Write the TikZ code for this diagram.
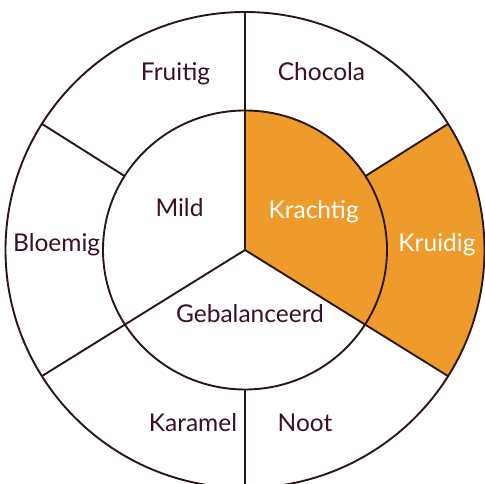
\documentclass[tikz,border=0pt]{standalone}
\usepackage{fontspec}
\setmainfont{Lato}
\usetikzlibrary{calc}
\definecolor{lineC}{HTML}{2A1619}
\definecolor{textC}{HTML}{3B1026}
\definecolor{orangeC}{HTML}{EE9B2B}
\begin{document}
\begin{tikzpicture}[x=1pt,y=1pt,
  ring/.style={draw=lineC,line width=1.9pt},
  spoke/.style={draw=lineC,line width=1.9pt},
  lbl/.style={anchor=base,inner sep=0pt,text=textC,font=\fontsize{24.5}{28}\selectfont},
  lblw/.style={lbl,text=white}]
\useasboundingbox (0,0) rectangle (485,484);
\fill[white] (0,0) rectangle (485,484);
\coordinate (c) at (245,234);
\def\ri{142 and 139.5}
\def\ro{239.5 and 238}
% coordinates
\foreach \a in {90,32,-32,-90,212,148}{
  \coordinate (i\a) at ([shift={(c)}]\a:\ri);
  \coordinate (o\a) at ([shift={(c)}]\a:\ro);
}
% orange fills
\fill[orangeC] (c) -- (i90) arc[start angle=90,end angle=-32,x radius=142,y radius=139.5] -- cycle;
\fill[orangeC] (o32) arc[start angle=32,end angle=-32,x radius=239.5,y radius=238]
  -- (i-32) arc[start angle=-32,end angle=32,x radius=142,y radius=139.5] -- cycle;
% rings
\draw[ring] (c) ellipse[x radius=142,y radius=139.5];
\draw[ring] (c) ellipse[x radius=239.5,y radius=238];
% spokes
\draw[spoke] (c) -- (o90);
\draw[spoke] (c) -- (o-32);
\draw[spoke] (c) -- (o212);
\draw[spoke] (i-90) -- (o-90);
\draw[spoke] (i32) -- (o32);
\draw[spoke] (i148) -- (o148);
% labels
\node[lbl] (fruitig) at (175.5,403) {Fruitig};
\node[lbl] (chocola) at (321.5,403) {Chocola};
\node[lbl] (mild) at (179.5,267) {Mild};
\node[lblw] (krachtig) at (313.7,265) {Krachtig};
\node[lbl] (bloemig) at (56.7,232) {Bloemig};
\node[lblw] (kruidig) at (437,232) {Kruidig};
\node[lbl] (gebal) at (250,161) {Gebalanceerd};
\node[lbl] (karamel) at (193,52.5) {Karamel};
\node[lbl] (noot) at (305,52.5) {Noot};
\end{tikzpicture}
\end{document}
